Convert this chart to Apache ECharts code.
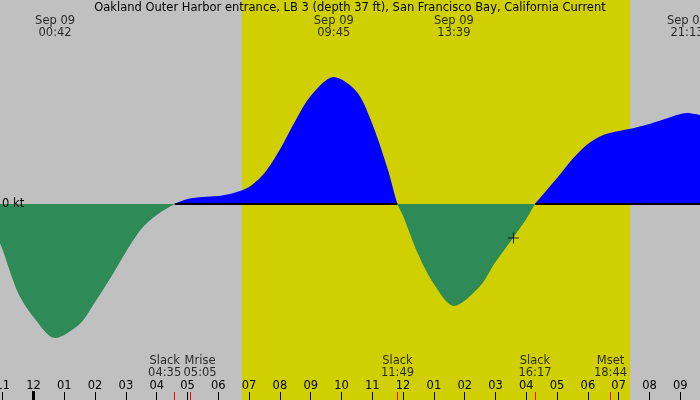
<!DOCTYPE html>
<html>
<head>
<meta charset="utf-8">
<script src="https://cdn.jsdelivr.net/npm/echarts@6/dist/echarts.min.js"></script>
<style>
html,body{margin:0;padding:0;background:#c0c0c0;}
#main{width:700px;height:400px;}
</style>
</head>
<body>
<div id="main"></div>
<script>
//标题
var chartTitle = 'Oakland Outer Harbor entrance, LB 3 (depth 37 ft), San Francisco Bay, California Current';

//流速曲线: 时刻(小时) 与 流速(kt)
var hours = [-1.09, -1.0, -0.5, 0, 0.7, 1.5, 2.0, 2.5, 3.0, 3.5, 4.0, 4.583,
    5.0, 5.5, 6.0, 6.5, 7.0, 7.5, 8.0, 8.5, 9.0, 9.75, 10.5, 11.0, 11.5, 11.817,
    12.0, 12.5, 13.0, 13.65, 14.5, 15.0, 15.5, 16.0, 16.283,
    16.5, 17.0, 17.5, 18.0, 18.5, 19.0, 19.5, 20.0, 20.5, 21.217, 21.64];
var speeds = [-0.39, -0.46, -0.89, -1.13, -1.34, -1.20, -0.98, -0.74, -0.48, -0.25, -0.11, 0,
    0.05, 0.07, 0.08, 0.11, 0.17, 0.31, 0.545, 0.83, 1.08, 1.27, 1.12, 0.80, 0.35, 0,
    -0.12, -0.51, -0.80, -1.02, -0.82, -0.58, -0.37, -0.15, 0,
    0.08, 0.26, 0.45, 0.60, 0.69, 0.73, 0.76, 0.80, 0.85, 0.91, 0.89];

//顶部极值时刻
var peakDate = 'Sep 09';
var peakTimes = ['00:42', '09:45', '13:39', '21:13'];

//底部事件
var eventNames = ['Slack', 'Mrise', 'Slack', 'Slack', 'Mset'];
var eventTimes = ['04:35', '05:05', '11:49', '16:17', '18:44'];

//日出日落(黄色区域)
var sunrise = '06:46';
var sunset = '19:22';

//当前时刻
var nowTime = '15:35';
var nowSpeed = -0.34;

//整点刻度
var hourTicks = [];
for (var h = -1; h <= 21; h++) {
    hourTicks.push(h);
}

//坐标范围
var xMin = -1.088, xMax = 21.64;
var yMin = -1.96, yMax = 2.04;

var font = 'DejaVu Sans';
var fontSize = 11.5;
var chartHeight = 400;

function toHour(t) {
    var p = t.split(':');
    return parseInt(p[0], 10) + parseInt(p[1], 10) / 60;
}

function hourLabel(v) {
    var n = ((Math.round(v) + 11) % 12 + 12) % 12 + 1;
    return (n < 10 ? '0' : '') + n;
}

var curve = hours.map(function(h, i) {
    return [h, speeds[i]];
});

//零线只画在涨潮段
var zeroSegs = [];
var start = null;
for (var i = 0; i < speeds.length; i++) {
    if (speeds[i] === 0 && i + 1 < speeds.length && speeds[i + 1] > 0) {
        start = hours[i];
    } else if (start !== null && (speeds[i] <= 0 || i === speeds.length - 1)) {
        zeroSegs.push([{ coord: [start, 0] }, { coord: [i === speeds.length - 1 ? xMax : hours[i], 0] }]);
        start = null;
    }
}

//涨潮蓝色, 落潮绿色, 以零线为界
var zeroRatio = yMax / (yMax - yMin);
var areaColor = new echarts.graphic.LinearGradient(0, 0, 0, chartHeight, [
    { offset: 0, color: '#0000ff' },
    { offset: zeroRatio, color: '#0000ff' },
    { offset: zeroRatio, color: '#2e8b57' },
    { offset: 1, color: '#2e8b57' }
], true);

//事件标签偏移(避免重叠)
var eventShift = [-10, 10, 0, 0, 0];

var myChart = echarts.init(document.getElementById('main'));

function tickAxis(values, color, width, length) {
    return {
        type: 'value',
        min: xMin,
        max: xMax,
        position: 'bottom',
        z: 10,
        axisLine: { show: false, onZero: false },
        splitLine: { show: false },
        axisLabel: { show: false },
        axisTick: {
            show: true,
            inside: true,
            length: length,
            customValues: values,
            lineStyle: { color: color, width: width }
        }
    };
}

var textStyle = {
    fontFamily: font,
    fontSize: fontSize,
    color: '#000',
    textBorderWidth: 0
};

var option = {
    backgroundColor: '#c0c0c0',
    animation: false,
    title: {
        text: chartTitle,
        left: 'center',
        top: 2,
        padding: 0,
        textStyle: { fontFamily: font, fontSize: fontSize, fontWeight: 'normal', color: '#000' }
    },
    grid: { left: 0, right: 0, top: 0, bottom: 0, outerBoundsMode: 'none', containLabel: false },
    xAxis: [{
        type: 'value',
        min: xMin,
        max: xMax,
        position: 'bottom',
        z: 10,
        axisLine: { show: false, onZero: false },
        splitLine: { show: false },
        axisTick: {
            show: true,
            inside: true,
            length: 8,
            customValues: hourTicks,
            lineStyle: { color: '#000', width: 1 }
        },
        axisLabel: Object.assign({
            show: true,
            inside: true,
            margin: 8,
            customValues: hourTicks,
            formatter: hourLabel
        }, textStyle)
    },
    tickAxis(eventTimes.map(toHour), '#ff0000', 1, 8),
    tickAxis([0], '#000', 3, 9)],
    yAxis: {
        type: 'value',
        min: yMin,
        max: yMax,
        z: 10,
        axisLine: { show: false, onZero: false },
        axisTick: { show: false },
        splitLine: { show: false },
        axisLabel: Object.assign({
            show: true,
            inside: true,
            margin: 2,
            customValues: [0],
            formatter: '{value} kt'
        }, textStyle)
    },
    series: [{
        //白天区域
        type: 'line',
        data: [],
        z: 1,
        silent: true,
        markArea: {
            silent: true,
            itemStyle: { color: '#d0d000' },
            data: [[{ xAxis: toHour(sunrise) }, { xAxis: toHour(sunset) }]]
        }
    }, {
        type: 'line',
        data: curve,
        z: 2,
        smooth: 0.3,
        symbol: 'none',
        silent: true,
        lineStyle: { opacity: 0, width: 0 },
        areaStyle: { color: areaColor, opacity: 1 },
        markLine: {
            silent: true,
            symbol: 'none',
            label: { show: false },
            lineStyle: { color: '#000', width: 2, type: 'solid' },
            data: zeroSegs
        }
    }, {
        //顶部时刻
        type: 'scatter',
        z: 12,
        silent: true,
        symbolSize: 0,
        data: peakTimes.map(function(t) {
            return { value: [toHour(t), 1.77], name: t };
        }),
        label: Object.assign({
            show: true,
            position: 'inside',
            formatter: function(p) { return peakDate + '\n' + p.name; },
            lineHeight: 12
        }, textStyle)
    }, {
        //底部事件
        type: 'scatter',
        z: 12,
        silent: true,
        symbolSize: 0,
        data: eventTimes.map(function(t, i) {
            return {
                value: [toHour(t), -1.635],
                name: eventNames[i] + '\n' + t,
                label: { offset: [eventShift[i], 0] }
            };
        }),
        label: Object.assign({
            show: true,
            position: 'inside',
            formatter: '{b}',
            lineHeight: 12
        }, textStyle)
    }, {
        //当前时刻
        type: 'scatter',
        z: 12,
        silent: true,
        symbol: 'path://M0,5L10,5M5,0L5,10',
        symbolSize: 11,
        itemStyle: { color: 'none', borderColor: '#000', borderWidth: 1 },
        data: [[toHour(nowTime), nowSpeed]]
    }]
};

myChart.setOption(option);
</script>
</body>
</html>
